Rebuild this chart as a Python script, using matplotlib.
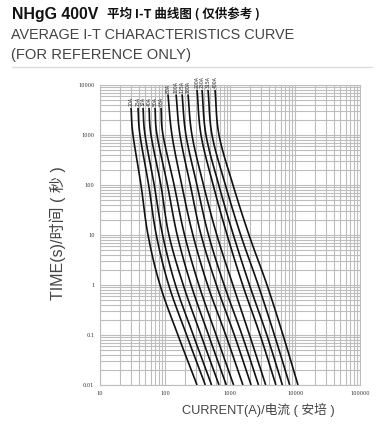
import numpy as np
import matplotlib
matplotlib.use("Agg")
import matplotlib.pyplot as plt
from matplotlib.ticker import LogLocator, FixedLocator, NullFormatter

# fuse ratings and their curves (current in A at the listed times in s)
ratings = ["20A", "25A", "32A", "40A", "50A", "63A", "80A",
           "100A", "125A", "160A", "200A", "250A", "315A", "400A"]
times_low = [3500, 1000, 100, 10, 1, 0.1, 0.01]
times_mid = [6500, 1000, 100, 10, 1, 0.1, 0.01]
times_high = [8000, 1000, 100, 10, 1, 0.1, 0.01]

cur_20 = [30.0, 32.2, 42.7, 54.8, 83.8, 158, 311]
cur_25 = [38.4, 41.2, 56.0, 73.5, 114, 215, 417]
cur_32 = [45.9, 49.3, 68.2, 91.9, 145, 272, 521]
cur_40 = [56.7, 60.9, 86.2, 115, 191, 357, 677]
cur_50 = [70.2, 75.3, 109, 154, 252, 467, 877]
cur_63 = [86.8, 93.2, 138, 200, 332, 611, 1136]
cur_80 = [111, 128, 181, 269, 452, 859, 1580]
cur_100 = [148, 170, 245, 359, 618, 1165, 2112]
cur_125 = [183, 210, 310, 467, 812, 1530, 2745]
cur_160 = [226, 260, 391, 627, 1108, 1995, 3541]
cur_200 = [311, 358, 551, 903, 1568, 2905, 5083]
cur_250 = [371, 427, 672, 1128, 1995, 3683, 6400]
cur_315 = [459, 529, 850, 1461, 2716, 4822, 8290]
cur_400 = [588, 677, 1112, 1961, 3709, 6537, 11120]

curves = [cur_20, cur_25, cur_32, cur_40, cur_50, cur_63, cur_80,
          cur_100, cur_125, cur_160, cur_200, cur_250, cur_315, cur_400]
curve_times = [times_low] * 6 + [times_mid] * 4 + [times_high] * 4

x_ticks = [10, 100, 1000, 10000, 100000]
y_ticks = [0.01, 0.1, 1, 10, 100, 1000, 10000]


def smooth_log(xs, ys, n=20):
    # Catmull-Rom through the points in log space, just for drawing
    lx = np.log10(xs)
    ly = np.log10(ys)
    px = np.concatenate([[2 * lx[0] - lx[1]], lx, [2 * lx[-1] - lx[-2]]])
    py = np.concatenate([[2 * ly[0] - ly[1]], ly, [2 * ly[-1] - ly[-2]]])
    out_x, out_y = [], []
    for i in range(1, len(px) - 2):
        t = np.linspace(0, 1, n, endpoint=False)
        for p, out in ((px, out_x), (py, out_y)):
            p0, p1, p2, p3 = p[i - 1], p[i], p[i + 1], p[i + 2]
            out.extend(0.5 * ((2 * p1) + (-p0 + p2) * t
                              + (2 * p0 - 5 * p1 + 4 * p2 - p3) * t ** 2
                              + (-p0 + 3 * p1 - 3 * p2 + p3) * t ** 3))
    out_x.append(lx[-1])
    out_y.append(ly[-1])
    return 10 ** np.array(out_x), 10 ** np.array(out_y)


fig = plt.figure(figsize=(3.82, 4.28), dpi=100)
ax = fig.add_axes([100 / 382, 43 / 428, 260 / 382, 300 / 428])
ax.set_xscale("log")
ax.set_yscale("log")
ax.set_xlim(10, 100000)
ax.set_ylim(0.01, 10000)

ax.xaxis.set_major_locator(FixedLocator(x_ticks))
ax.yaxis.set_major_locator(FixedLocator(y_ticks))
ax.xaxis.set_minor_locator(LogLocator(base=10, subs=np.arange(2, 10)))
ax.yaxis.set_minor_locator(LogLocator(base=10, subs=np.arange(2, 10)))
ax.xaxis.set_minor_formatter(NullFormatter())
ax.yaxis.set_minor_formatter(NullFormatter())
ax.set_xticklabels([str(v) for v in x_ticks])
ax.set_yticklabels(["0.01", "0.1", "1", "10", "100", "1000", "10000"])
ax.tick_params(which="both", length=0, labelsize=3.6, colors="#333333", pad=4)
for lab in ax.get_xticklabels() + ax.get_yticklabels():
    lab.set_family("DejaVu Serif")

ax.grid(True, which="both", color="#bdbdbd", linewidth=0.8)
for s in ax.spines.values():
    s.set_color("#bdbdbd")
    s.set_linewidth(0.8)

for name, cur, tms in zip(ratings, curves, curve_times):
    sx, sy = smooth_log(cur, tms)
    ax.plot(sx, sy, color="#111111", linewidth=1.2, solid_capstyle="butt")
    ax.annotate(name, (cur[0], tms[0]), xytext=(0, 1.0), textcoords="offset points",
                rotation=90, ha="center", va="bottom", fontsize=3.3,
                color="#222222", annotation_clip=False)

fam = ["Liberation Sans", "Noto Sans CJK SC"]
cjk = ["Noto Sans CJK SC"]
fig.text(12 / 382, 1 - 14 / 428, "NHgG 400V", fontsize=11.4, fontweight="bold",
         family=fam, va="center", ha="left", color="#111111")
fig.text(107 / 382, 1 - 14 / 428, "平均 I-T 曲线图 ( 仅供参考 )", fontsize=9,
         fontweight="bold", family=cjk, va="center", ha="left", color="#111111")
fig.text(11 / 382, 1 - 35 / 428, "AVERAGE I-T CHARACTERISTICS CURVE", fontsize=10.4,
         family=fam, va="center", ha="left", color="#444444")
fig.text(11 / 382, 1 - 55 / 428, "(FOR REFERENCE ONLY)", fontsize=10.6,
         family=fam, va="center", ha="left", color="#444444")
fig.add_artist(plt.Line2D([12 / 382, 372 / 382], [1 - 67 / 428, 1 - 67 / 428],
                          color="#dddddd", linewidth=1.0))

fig.text(58 / 382, 1 - 233 / 428, "TIME(s)/时间 ( 秒 )", fontsize=11.5, rotation=90,
         family=fam, va="center", ha="center", color="#444444")
fig.text(258 / 382, 1 - 410 / 428, "CURRENT(A)/电流 ( 安培 )", fontsize=9.2,
         family=fam, va="center", ha="center", color="#444444")

fig.savefig("out.png", dpi=100)
